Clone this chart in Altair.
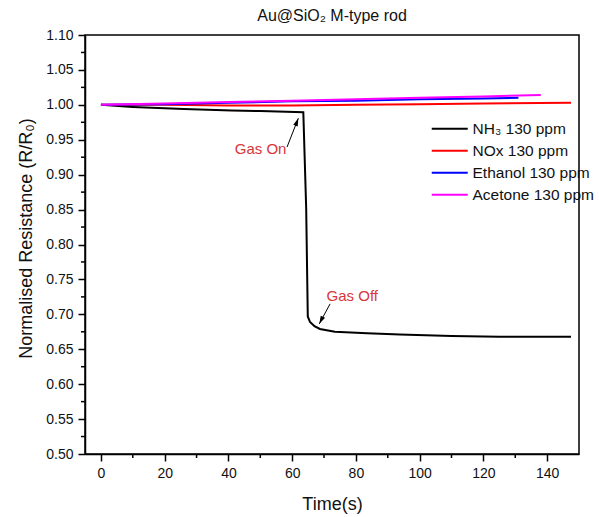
import altair as alt
import pandas as pd

# ---- data ----
series_names = ["NH\u2083 130 ppm", "NOx 130 ppm", "Ethanol 130 ppm", "Acetone 130 ppm"]
series_colors = ["#000000", "#ff0000", "#0000ff", "#ff00ff"]

nh3_t = [0, 10, 20, 26, 41, 50, 63.5, 64.4, 64.9, 65.6, 67, 68.7, 73.4, 83.5, 93.8, 110, 125, 147.5]
nh3_v = [1.000, 0.997, 0.995, 0.994, 0.992, 0.991, 0.9895, 0.852, 0.697, 0.689, 0.683, 0.679,
         0.675, 0.673, 0.671, 0.669, 0.668, 0.668]
nox_t = [0, 20, 40, 60, 80, 100, 120, 147.5]
nox_v = [1.000, 1.000, 0.999, 0.999, 1.000, 1.001, 1.002, 1.003]
eth_t = [0, 20, 40, 60, 80, 100, 120, 131]
eth_v = [1.000, 1.001, 1.003, 1.005, 1.006, 1.008, 1.009, 1.010]
ace_t = [0, 20, 40, 60, 80, 100, 120, 138]
ace_v = [1.000, 1.002, 1.004, 1.006, 1.008, 1.010, 1.012, 1.014]

x_major = [0, 20, 40, 60, 80, 100, 120, 140]
x_minor = [10, 30, 50, 70, 90, 110, 130]
y_major = [0.50, 0.55, 0.60, 0.65, 0.70, 0.75, 0.80, 0.85, 0.90, 0.95, 1.00, 1.05, 1.10]
y_minor = [0.525, 0.575, 0.625, 0.675, 0.725, 0.775, 0.825, 0.875, 0.925, 0.975, 1.025, 1.075]

# annotations: label, text anchor (t, v), arrow tail (t, v), arrow head (t, v)
ann_labels = ["Gas On", "Gas Off"]
ann_text_t = [58.2, 70.8]
ann_text_v = [0.9367, 0.7266]
arrow_t1 = [58.4, 71.9]
arrow_v1 = [0.9396, 0.715]
arrow_t2 = [61.94, 68.5]
arrow_v2 = [0.9809, 0.6863]

# ---- build tables ----
rows = []
for name, ts, vs in zip(series_names, [nh3_t, nox_t, eth_t, ace_t], [nh3_v, nox_v, eth_v, ace_v]):
    for t, v in zip(ts, vs):
        rows.append({"series": name, "t": t, "v": v})
df = pd.DataFrame(rows)

FONT = "Liberation Sans"
xs = alt.Scale(domain=[-5, 150], nice=False, zero=False)
ys = alt.Scale(domain=[0.5, 1.1], nice=False, zero=False)

AX = alt.Axis(values=x_major, title="Time(s)", format="d", grid=False, labelOverlap=False,
              tickSize=7, tickWidth=1.5, tickColor="black", domainColor="black", domainWidth=1.5,
              labelFont=FONT, labelFontSize=14, labelColor="#111", labelPadding=5,
              titleFont=FONT, titleFontSize=18, titleFontWeight="normal", titleColor="#111",
              titleX=247, titleY=50, titleBaseline="middle")
AY = alt.Axis(values=y_major, title="Normalised Resistance (R/R\u2080)", format=".2f", grid=False,
              labelOverlap=False,
              tickSize=7, tickWidth=1.5, tickColor="black", domainColor="black", domainWidth=1.5,
              labelFont=FONT, labelFontSize=14, labelColor="#111", labelPadding=5,
              titleFont=FONT, titleFontSize=18, titleFontWeight="normal", titleColor="#111",
              titleX=-59, titleY=203, titleBaseline="middle", titleAngle=-90)

def X(field):
    return alt.X(field, type="quantitative", scale=xs, axis=AX)

def Y(field):
    return alt.Y(field, type="quantitative", scale=ys, axis=AY)

lines = alt.Chart(df).mark_line(strokeWidth=2, clip=True).encode(
    x=X("t"), y=Y("v"),
    color=alt.Color("series:N", sort=series_names,
                    scale=alt.Scale(domain=series_names, range=series_colors),
                    legend=alt.Legend(title=None, orient="none", legendX=357, legendY=86,
                                      symbolType="M-3,0L3,0", symbolSize=144, symbolStrokeWidth=2,
                                      labelFont=FONT, labelFontSize=15.5, labelColor="#111",
                                      labelOffset=15, rowPadding=5, padding=0)),
)

minor_x = alt.Chart(pd.DataFrame({"t": x_minor})).mark_rule(color="black", strokeWidth=1.5).encode(
    x=X("t"), y=alt.value(419), y2=alt.value(423))
minor_y = alt.Chart(pd.DataFrame({"v": y_minor})).mark_rule(color="black", strokeWidth=1.5).encode(
    y=Y("v"), x=alt.value(-4), x2=alt.value(0))

ann = pd.DataFrame({"label": ann_labels, "tt": ann_text_t, "tv": ann_text_v,
                    "t1": arrow_t1, "v1": arrow_v1, "t2": arrow_t2, "v2": arrow_v2})

text_on = alt.Chart(ann.iloc[[0]]).mark_text(color="#d8363a", font=FONT, fontSize=15,
                                              align="right", baseline="middle").encode(
    x=X("tt"), y=Y("tv"), text="label:N")
text_off = alt.Chart(ann.iloc[[1]]).mark_text(color="#d8363a", font=FONT, fontSize=15,
                                               align="left", baseline="middle").encode(
    x=X("tt"), y=Y("tv"), text="label:N")

shafts = alt.Chart(ann).mark_rule(color="black", strokeWidth=1).encode(
    x=X("t1"), y=Y("v1"), x2="t2:Q", y2="v2:Q")

ARROW = "M0,0L-0.6,2L0.6,2Z"
head_on = alt.Chart(ann.iloc[[0]]).mark_point(shape=ARROW, filled=True, color="black", size=64,
                                              angle=21, opacity=1).encode(x=X("t2"), y=Y("v2"))
head_off = alt.Chart(ann.iloc[[1]]).mark_point(shape=ARROW, filled=True, color="black", size=64,
                                               angle=207, opacity=1).encode(x=X("t2"), y=Y("v2"))

chart = alt.layer(lines, minor_x, minor_y, shafts, head_on, head_off, text_on, text_off).properties(
    width=494, height=419,
    background="white",
    title=alt.TitleParams("Au@SiO\u2082 M-type rod", font=FONT, fontSize=16, fontWeight="normal",
                          color="#111", anchor="middle", offset=4),
    autosize=alt.AutoSizeParams(type="none"),
    padding={"left": 85, "top": 35, "right": 20, "bottom": 63},
).configure_view(stroke="black", strokeWidth=1.5).configure_axis(labelOverlap=False)

chart.save("out.html", embed_options={"renderer": "svg", "actions": False})
